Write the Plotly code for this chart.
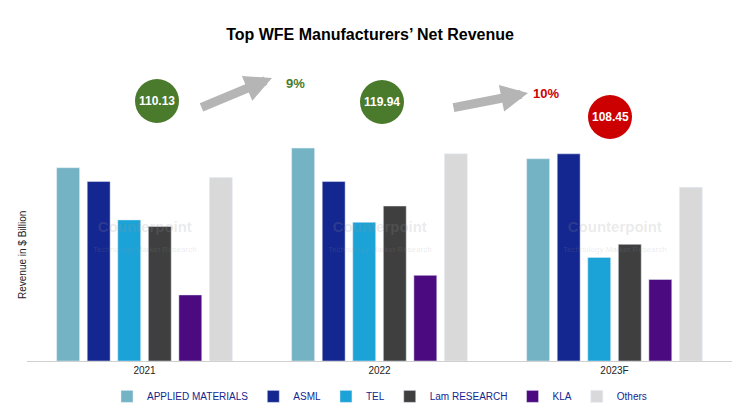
import plotly.graph_objects as go

years = ["2021", "2022", "2023F"]
companies = ["APPLIED MATERIALS", "ASML", "TEL", "Lam RESEARCH", "KLA", "Others"]
values = {
    "APPLIED MATERIALS": [23.7, 26.1, 24.8],
    "ASML": [22.0, 22.0, 25.4],
    "TEL": [17.3, 17.0, 12.7],
    "Lam RESEARCH": [16.5, 19.0, 14.3],
    "KLA": [8.1, 10.5, 10.0],
    "Others": [22.5, 25.4, 21.3],
}
totals = ["110.13", "119.94", "108.45"]
growth = ["9%", "10%"]
colors = ["#74b3c4", "#14268f", "#1ba3d8", "#3f3f3f", "#4b0a7f", "#d9d9d9"]

W, H = 740, 416
L, R, T, B = 27, 8, 100, 55
pw, ph = W - L - R, H - T - B
def px(x): return (x - L) / pw
def py(y): return (H - B - y) / ph

fig = go.Figure()
for c, col in zip(companies, colors):
    fig.add_trace(go.Bar(name=c, x=years, y=values[c], marker_color=col))

shapes, ann = [], []
circ = [(157, 101, "#4a7a2c"), (382, 102, "#4a7a2c"), (610, 117, "#cc0000")]
for (cx, cy, col), t in zip(circ, totals):
    r = 22
    shapes.append(dict(type="circle", xref="paper", yref="paper", x0=px(cx - r), x1=px(cx + r),
                       y0=py(cy + r), y1=py(cy - r), fillcolor=col, line_width=0, layer="below"))
    ann.append(dict(x=px(cx), y=py(cy), xref="paper", yref="paper", text=f"<b>{t}</b>",
                    xanchor="center", yanchor="middle",
                    showarrow=False, font=dict(color="white", size=12)))
for (x0, y0, x1, y1), t, tc, (tx, ty) in [((200, 108, 272, 78), growth[0], "#4a7a2c", (295, 84)),
                                          ((452, 108, 528, 93), growth[1], "#cc0000", (546, 93))]:
    ann.append(dict(x=px(x1), y=py(y1), ax=x0 - x1, ay=y0 - y1, xref="paper", yref="paper",
                    axref="pixel", ayref="pixel", showarrow=True, arrowhead=2, arrowsize=0.6,
                    arrowwidth=9, arrowcolor="#b5b5b5", text=""))
    ann.append(dict(x=px(tx), y=py(ty), xref="paper", yref="paper", text=f"<b>{t}</b>",
                    xanchor="center", yanchor="middle",
                    showarrow=False, font=dict(color=tc, size=13)))
for wx in [145, 380, 615]:
    ann.append(dict(x=px(wx), y=py(236), xref="paper", yref="paper",
                    text="<b>Counterpoint</b><br><span style='font-size:8px'>Technology Market Research</span>",
                    xanchor="center", yanchor="middle",
                    showarrow=False, font=dict(color="rgba(150,150,150,0.2)", size=15)))
ann.append(dict(x=px(22), y=py(255), xref="paper", yref="paper", text="Revenue in $ Billion",
                xanchor="center", yanchor="middle",
                textangle=-90, showarrow=False, font=dict(size=10, color="#222")))

fig.update_layout(
    width=W, height=H, margin=dict(l=L, r=R, t=T, b=B, autoexpand=False),
    plot_bgcolor="rgba(0,0,0,0)", paper_bgcolor="white",
    font=dict(family="Liberation Sans, Arial", color="#222"),
    title=dict(text="<b>Top WFE Manufacturers’ Net Revenue</b>", x=0.5, xanchor="center",
               y=0.93, font=dict(size=16, color="black")),
    barmode="group", bargap=0.22, bargroupgap=0.25,
    xaxis=dict(showline=True, linecolor="#d0d0d0", tickfont=dict(size=10), ticks="", automargin=False),
    yaxis=dict(range=[0, 32], showticklabels=False, showgrid=False, zeroline=False, automargin=False),
    legend=dict(orientation="h", x=0.5, xanchor="center", y=-0.08, yanchor="top",
                font=dict(size=10, color="#14268f")),
    shapes=shapes, annotations=ann,
)
fig.write_html("out.html", config={"displayModeBar": False})
with open("out.html", encoding="utf-8") as f:
    html = f.read()
html = html.replace("<head>", "<head><style>html,body{margin:0;padding:0;}</style>", 1)
with open("out.html", "w", encoding="utf-8") as f:
    f.write(html)
